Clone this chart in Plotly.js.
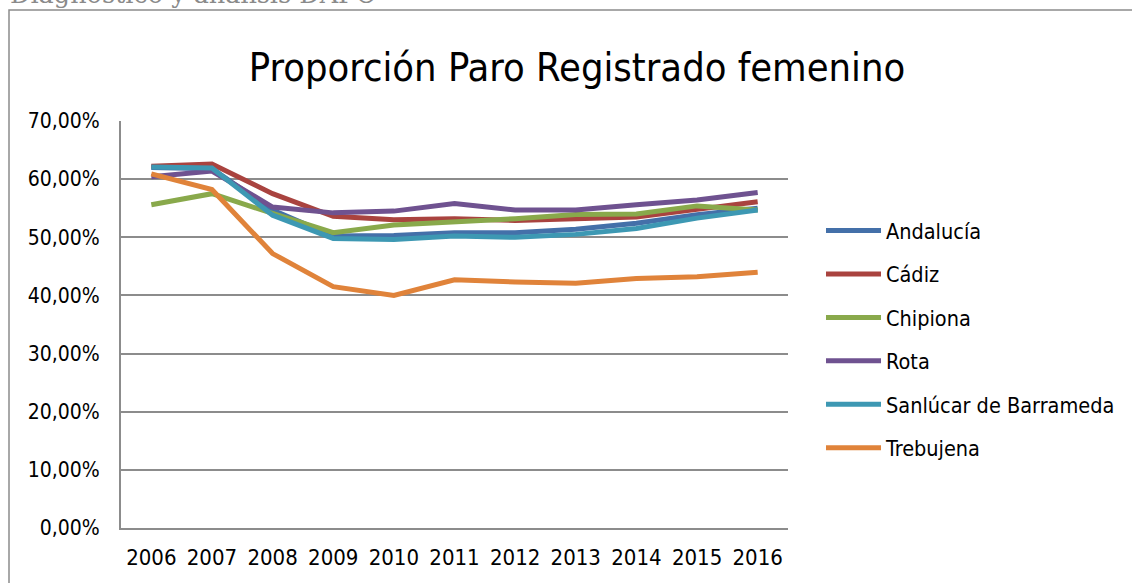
<!DOCTYPE html>
<html>
<head>
<meta charset="utf-8">
<script src="https://cdn.plot.ly/plotly-3.0.1.min.js"></script>
<style>
html,body{margin:0;padding:0;background:#fff;}
#chart{width:1132px;height:583px;}
</style>
</head>
<body>
<div id="chart"></div>
<script>
const years = ["2006","2007","2008","2009","2010","2011","2012","2013","2014","2015","2016"];
const andalucia = [0.620, 0.618, 0.547, 0.502, 0.503, 0.508, 0.508, 0.514, 0.524, 0.539, 0.550];
const cadiz     = [0.622, 0.626, 0.575, 0.536, 0.530, 0.532, 0.529, 0.531, 0.535, 0.548, 0.561];
const chipiona  = [0.556, 0.575, 0.541, 0.508, 0.521, 0.526, 0.532, 0.539, 0.540, 0.554, 0.547];
const rota      = [0.604, 0.614, 0.552, 0.542, 0.545, 0.558, 0.547, 0.547, 0.556, 0.564, 0.577];
const sanlucar  = [0.621, 0.619, 0.538, 0.498, 0.496, 0.502, 0.500, 0.505, 0.515, 0.533, 0.547];
const trebujena = [0.609, 0.582, 0.472, 0.415, 0.400, 0.427, 0.423, 0.421, 0.429, 0.432, 0.440];

const seriesNames = ["Andalucía","Cádiz","Chipiona","Rota","Sanlúcar de Barrameda","Trebujena"];
const seriesValues = [andalucia, cadiz, chipiona, rota, sanlucar, trebujena];
const seriesColors = ["#4470A9","#A9433F","#89A94B","#6F5290","#3D98B3","#E0833A"];

const FONT = "'Liberation Sans Narrow', 'DejaVu Sans Condensed', 'Roboto', sans-serif";

const traces = seriesNames.map((n, i) => ({
  type: "scatter",
  mode: "lines",
  name: n,
  x: years,
  y: seriesValues[i],
  line: {color: seriesColors[i], width: 5},
  legendgroup: "g" + i,
  hoverinfo: "x+y+name"
}));

const layout = {
  width: 1132,
  height: 583,
  separators: ",.",
  paper_bgcolor: "#ffffff",
  plot_bgcolor: "#ffffff",
  margin: {l: 121, r: 344, t: 121, b: 55, pad: 0, autoexpand: false},
  font: {family: FONT, color: "#000000", size: 22},
  title: {
    text: "Proporción Paro Registrado femenino",
    font: {family: FONT, size: 39.5, color: "#000000"},
    xref: "paper", x: (577 - 121) / 667, xanchor: "center",
    yref: "container", y: 1 - 67 / 583, yanchor: "middle"
  },
  xaxis: {
    type: "category",
    range: [-0.5, 10.5],
    showgrid: false,
    showline: true,
    linecolor: "#8c8c8c",
    linewidth: 2,
    ticks: "",
    ticklabelstandoff: 9,
    tickfont: {family: FONT, size: 22, color: "#000000"},
    zeroline: false
  },
  yaxis: {
    range: [0, 0.7],
    dtick: 0.1,
    tick0: 0,
    tickformat: ".2%",
    showgrid: true,
    gridcolor: "#8c8c8c",
    gridwidth: 2,
    showline: true,
    linecolor: "#8c8c8c",
    linewidth: 2,
    ticks: "",
    ticklabelstandoff: 15,
    tickfont: {family: FONT, size: 21, color: "#000000"},
    zeroline: false
  },
  showlegend: true,
  legend: {
    x: (821 - 121) / 667,
    xanchor: "left",
    y: (528 - 210) / 407,
    yanchor: "top",
    font: {family: FONT, size: 21.5, color: "#000000"},
    tracegroupgap: 12.5,
    itemwidth: 55,
    bgcolor: "rgba(0,0,0,0)",
    borderwidth: 0
  },
  shapes: [
    {type: "rect", xref: "paper", yref: "paper",
     x0: (9 - 121) / 667, x1: 1.8, y0: -0.3, y1: (528 - 10) / 407,
     line: {color: "#8c8c8c", width: 1.5}, fillcolor: "rgba(0,0,0,0)", layer: "below"}
  ],
  annotations: [
    {text: "Diagnóstico y análisis DAFO", xref: "paper", yref: "paper",
     x: (8 - 121) / 667, xanchor: "left", y: (528 - 11) / 407, yanchor: "bottom",
     showarrow: false, font: {family: "'DejaVu Serif', 'Liberation Serif', serif", size: 25.5, color: "#8a8a8a"}}
  ]
};

Plotly.newPlot("chart", traces, layout, {displayModeBar: false, staticPlot: true});
</script>
</body>
</html>
